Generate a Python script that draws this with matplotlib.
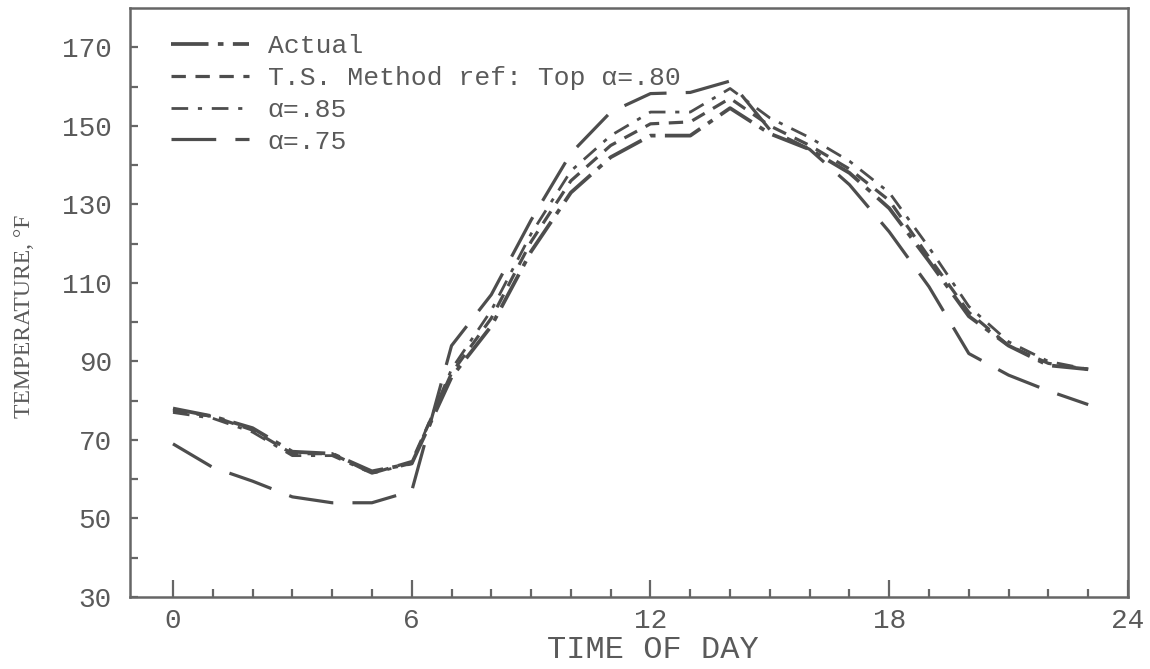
import matplotlib
matplotlib.use("Agg")
import matplotlib.pyplot as plt
from matplotlib.ticker import FixedLocator

# ---- data ----
hours = list(range(24))
actual = [78, 76, 73, 67, 66.5, 62, 64, 86, 99, 118, 133, 142, 147.5, 147.5, 154.5,
          148, 144, 138, 129, 115.5, 101.5, 94, 89, 88]
alpha80 = [77.5, 76, 72.5, 66.5, 66.5, 61.5, 64.5, 87, 101, 120.5, 136, 145, 150.5, 151, 157,
           150, 145, 139, 131, 116.5, 102.5, 94, 89.5, 88]
alpha85 = [77, 75.5, 72, 66, 66, 61.5, 64, 88, 103, 122.5, 138.5, 147.5, 153.5, 153.5, 159.5,
           152, 147, 141, 133, 119, 104, 95, 90, 88]
alpha75 = [69, 63, 59.5, 55.5, 54, 54, 57, 94, 107, 126, 143, 153.5, 158.2, 158.5, 161.4,
           149, 144, 135, 123, 109, 92, 86.5, 82.5, 79]
labels = ["Actual", "T.S. Method ref: Top \u03b1=.80", "\u03b1=.85", "\u03b1=.75"]
xticks_major = [0, 6, 12, 18, 24]
yticks_major = [30, 50, 70, 90, 110, 130, 150, 170]

mono = "Liberation Mono"
lc = "#4d4d4d"
tc = "#5a5a5a"

fig = plt.figure(figsize=(11.5, 6.69), dpi=100)
ax = fig.add_axes([130 / 1150, 1 - 597 / 669, 998 / 1150, 589 / 669])

lw = 2.3
ax.plot(hours, actual, color=lc, lw=lw + 0.4, ls=(0, (10, 2.5, 1.5, 2.5)), label=labels[0])
ax.plot(hours, alpha80, color=lc, lw=lw, ls=(0, (4.5, 3)), label=labels[1])
ax.plot(hours, alpha85, color=lc, lw=lw - 0.3, ls=(0, (6, 3.5, 1.5, 3.5)), label=labels[2])
ax.plot(hours, alpha75, color=lc, lw=lw, ls=(0, (14, 6)), label=labels[3])

ax.set_xlim(-1.08, 24)
ax.set_ylim(30, 180)

ax.xaxis.set_major_locator(FixedLocator(xticks_major))
ax.xaxis.set_minor_locator(FixedLocator([h for h in range(1, 24) if h % 6 != 0]))
ax.yaxis.set_major_locator(FixedLocator(yticks_major))
ax.yaxis.set_minor_locator(FixedLocator([40, 60, 80, 100, 120, 140, 160]))

ax.tick_params(axis="x", which="major", direction="in", length=12, width=1.6,
               color="#666666", pad=8, labelsize=20, labelcolor=tc)
ax.tick_params(axis="x", which="minor", direction="in", length=6, width=1.6, color="#666666")
ax.tick_params(axis="y", which="both", direction="in", length=6, width=1.6,
               color="#666666", pad=13, labelsize=20, labelcolor=tc)
for lab in ax.get_xticklabels() + ax.get_yticklabels():
    lab.set_fontfamily(mono)

for s in ax.spines.values():
    s.set_color("#666666")
    s.set_linewidth(1.8)

ax.set_xlabel("TIME OF DAY", fontsize=23, fontfamily=mono, color=tc)
ax.xaxis.set_label_coords((653 - 130) / 998, -(650 - 597) / 589)
ax.xaxis.label.set_va("center")
fig.text(24 / 1150, 1 - 316 / 669, "TEMPERATURE, \u00b0F", rotation=90, ha="center",
         va="center", fontsize=17, fontfamily="Liberation Serif", color=tc)

leg = ax.legend(loc="upper left", bbox_to_anchor=(0.041, 0.956), frameon=False,
                prop={"family": mono, "size": 19}, handlelength=2.95, handletextpad=0.72,
                labelspacing=0.3, borderpad=0, borderaxespad=0)
for t in leg.get_texts():
    t.set_color(tc)

fig.savefig("out.png", dpi=100, facecolor="white")
